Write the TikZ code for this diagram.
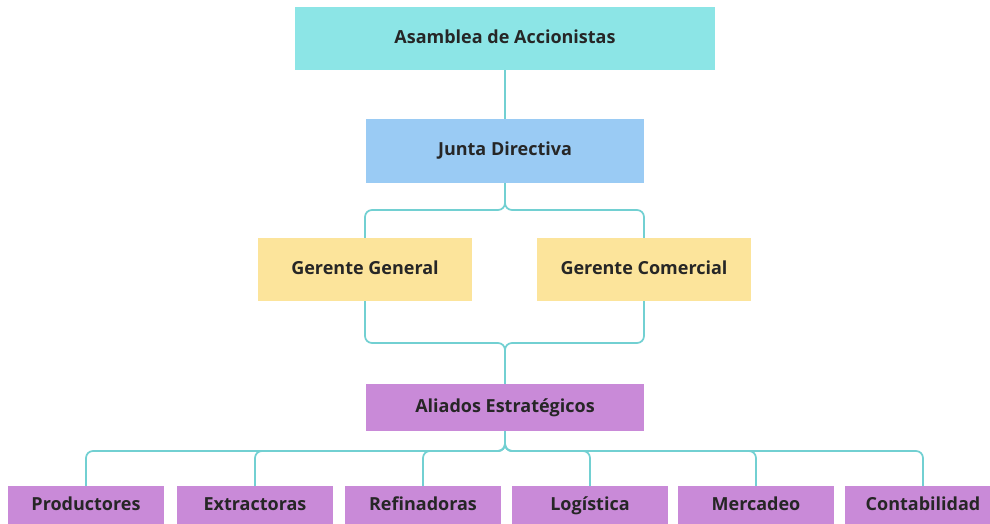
\documentclass[tikz,border=0pt]{standalone}
\usepackage{fontspec}
\setmainfont{Open Sans}
\definecolor{cTop}{HTML}{8CE5E6}
\definecolor{cJunta}{HTML}{9ACBF4}
\definecolor{cGer}{HTML}{FCE49B}
\definecolor{cPur}{HTML}{C98AD8}
\definecolor{cLine}{HTML}{72D0D2}
\definecolor{cText}{HTML}{262626}
\begin{document}
\begin{tikzpicture}[x=1pt,y=-1pt,
  box/.style={rectangle,inner sep=0pt,text=cText,text height=13pt,text depth=4pt,font=\bfseries\fontsize{18}{20}\selectfont},
  conn/.style={draw=cLine,line width=1.7pt,rounded corners=7pt}]
\useasboundingbox (0,0) rectangle (990,523);
\clip (0,0) rectangle (990,523);
\fill[white] (0,0) rectangle (990,523);
\node[box,fill=cTop,minimum width=420,minimum height=63] (asam) at (505,38.5) {Asamblea de Accionistas};
\node[box,fill=cJunta,minimum width=278,minimum height=64] (junta) at (505,151) {Junta Directiva};
\node[box,fill=cGer,minimum width=214,minimum height=63] (gg) at (365,269.5) {Gerente General};
\node[box,fill=cGer,minimum width=214,minimum height=63] (gc) at (644,269.5) {Gerente Comercial};
\node[box,fill=cPur,minimum width=278,minimum height=47] (ali) at (505,407.5) {Aliados Estratégicos};
\foreach \n/\x/\t in {p/86/Productores,e/255/Extractoras,r/423/Refinadoras,l/590/Logística,m/756/Mercadeo,c/923/Contabilidad}{
  \node[box,fill=cPur,minimum width=156,minimum height=40] (\n) at (\x,506) {\t};
}
\coordinate (b1) at (505,210);
\coordinate (b2) at (505,343);
\coordinate (b3) at (505,451);
\draw[conn] (asam.south) -- (junta.north);
\draw[conn] (junta.south) -- (b1) -| (gg.north);
\draw[conn] (junta.south) -- (b1) -| (gc.north);
\draw[conn] (gg.south) |- (b2) -- (ali.north);
\draw[conn] (gc.south) |- (b2) -- (ali.north);
\foreach \n in {p,e,r,l,m,c}{
  \draw[conn] (ali.south) -- (b3) -| (\n.north);
}
\end{tikzpicture}
\end{document}
